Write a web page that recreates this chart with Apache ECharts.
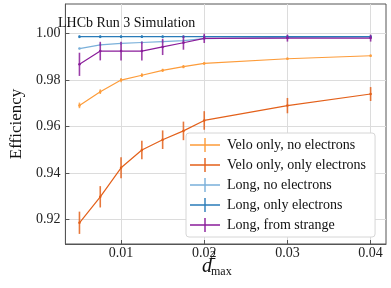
<!DOCTYPE html>
<html>
<head>
<meta charset="utf-8">
<script src="https://cdn.jsdelivr.net/npm/echarts@6/dist/echarts.min.js"></script>
<style>html,body{margin:0;padding:0;background:#fff;}#c{width:391px;height:288px;}</style>
</head>
<body>
<div id="c"></div>
<script>
var xValues = [0.005, 0.0075, 0.01, 0.0125, 0.015, 0.0175, 0.02, 0.03, 0.04];
var xTicks = [0.01, 0.02, 0.03, 0.04];
var yTicks = [0.92, 0.94, 0.96, 0.98, 1.00];

var veloNoE    = [0.9691, 0.9750, 0.9800, 0.9821, 0.9842, 0.9858, 0.9872, 0.9892, 0.9905];
var veloNoEErr = [0.0012, 0.0010, 0.0009, 0.0008, 0.0007, 0.0007, 0.0006, 0.0005, 0.0005];
var veloE      = [0.9185, 0.9297, 0.9422, 0.9499, 0.9543, 0.9581, 0.9626, 0.9690, 0.9740];
var veloEErr   = [0.0048, 0.0046, 0.0045, 0.0040, 0.0040, 0.0040, 0.0040, 0.0033, 0.0030];
var longNoE    = [0.9936, 0.9952, 0.9958, 0.9962, 0.9966, 0.9970, 0.9979, 0.9984, 0.9986];
var longNoEErr = [0.0003, 0.0003, 0.0003, 0.0003, 0.0003, 0.0003, 0.0003, 0.0003, 0.0003];
var longE      = [0.9987, 0.9987, 0.9987, 0.9987, 0.9987, 0.9987, 0.9987, 0.9987, 0.9987];
var longEErr   = [0.0006, 0.0006, 0.0006, 0.0006, 0.0006, 0.0006, 0.0006, 0.0006, 0.0006];
var strange    = [0.9868, 0.9925, 0.9925, 0.9925, 0.9943, 0.9961, 0.9980, 0.9981, 0.9981];
var strangeErr = [0.0050, 0.0040, 0.0040, 0.0040, 0.0035, 0.0030, 0.0020, 0.0015, 0.0015];

var names  = ['Velo only, no electrons', 'Velo only, only electrons', 'Long, no electrons', 'Long, only electrons', 'Long, from strange'];
var colors = ['#fd9c3a', '#e3601a', '#7ab0da', '#2a7cb9', '#8a1c9a'];
var values = [veloNoE, veloE, longNoE, longE, strange];
var errors = [veloNoEErr, veloEErr, longNoEErr, longEErr, strangeErr];

var FONT = '"Liberation Serif", "DejaVu Serif", serif';

var series = [];
names.forEach(function (n, i) {
  var lineData = xValues.map(function (x, k) { return [x, values[i][k]]; });
  var errData = xValues.map(function (x, k) { return [x, values[i][k], errors[i][k]]; });
  series.push({
    type: 'custom',
    name: n + ' err',
    data: errData,
    z: 2 + i * 2,
    silent: true,
    renderItem: function (params, api) {
      var x = api.value(0), y = api.value(1), e = api.value(2);
      var p1 = api.coord([x, y - e]);
      var p2 = api.coord([x, y + e]);
      return {
        type: 'line',
        shape: { x1: p1[0], y1: p1[1], x2: p2[0], y2: p2[1] },
        style: { stroke: colors[i], lineWidth: 1.6, opacity: 0.85 }
      };
    }
  });
  series.push({
    type: 'line',
    name: n,
    data: lineData,
    z: 3 + i * 2,
    color: colors[i],
    symbol: 'circle',
    symbolSize: 2.5,
    lineStyle: { width: 1.2, color: colors[i] },
    itemStyle: { color: colors[i] },
    animation: false
  });
});

var chart = echarts.init(document.getElementById('c'), null, { renderer: 'canvas' });
chart.setOption({
  animation: false,
  backgroundColor: '#ffffff',
  title: {
    text: 'LHCb Run 3 Simulation',
    left: 58, top: 16, padding: 0,
    textStyle: { fontFamily: FONT, fontSize: 14, fontWeight: 'normal', color: '#111' }
  },
  grid: { left: 52, right: 5, top: 4, bottom: 44, show: true, borderColor: '#555', borderWidth: 1, backgroundColor: 'transparent' },
  xAxis: {
    type: 'value',
    min: 0.00331, max: 0.04185,
    axisLine: { show: true, onZero: false, lineStyle: { color: '#555', width: 1 } },
    axisTick: { show: true, inside: true, length: 4, customValues: xTicks, lineStyle: { color: '#555' } },
    axisLabel: { customValues: xTicks, fontFamily: FONT, fontSize: 14, color: '#222', margin: 2,
      formatter: function (v) { return v.toFixed(2); } },
    splitLine: { show: true, customValues: xTicks, lineStyle: { color: '#dcdcdc', width: 1 } }
  },
  yAxis: {
    type: 'value',
    min: 0.90935, max: 1.0128,
    name: 'Efficiency', nameLocation: 'middle', nameGap: 38,
    nameTextStyle: { fontFamily: FONT, fontSize: 17, color: '#111' },
    axisLine: { show: true, onZero: false, lineStyle: { color: '#555', width: 1 } },
    axisTick: { show: true, inside: true, length: 4, customValues: yTicks, lineStyle: { color: '#555' } },
    axisLabel: { customValues: yTicks, fontFamily: FONT, fontSize: 14, color: '#222', margin: 5,
      formatter: function (v) { return v.toFixed(2); } },
    splitLine: { show: true, customValues: yTicks, lineStyle: { color: '#dcdcdc', width: 1 } }
  },
  legend: {
    data: names,
    orient: 'vertical',
    left: 186, top: 133,
    padding: [5, 9, 5, 4],
    itemGap: 6,
    itemWidth: 30, itemHeight: 14,
    icon: 'path://M0,6.3h30v1.4h-30z M14.3,0h1.4v14h-1.4z',
    backgroundColor: '#ffffff',
    borderColor: '#d6d6d6', borderWidth: 1, borderRadius: 3,
    textStyle: { fontFamily: FONT, fontSize: 14, color: '#111', padding: [0, 0, 0, 2] },
    z: 20
  },
  graphic: [
    { type: 'text', left: 202, top: 257, style: { text: 'd', font: 'italic 20px ' + FONT, fill: '#111' }, z: 10 },
    { type: 'text', left: 210, top: 250, style: { text: '2', font: '12px ' + FONT, fill: '#111' }, z: 10 },
    { type: 'text', left: 211, top: 266, style: { text: 'max', font: '12px ' + FONT, fill: '#111' }, z: 10 }
  ],
  series: series
});
</script>
</body>
</html>
